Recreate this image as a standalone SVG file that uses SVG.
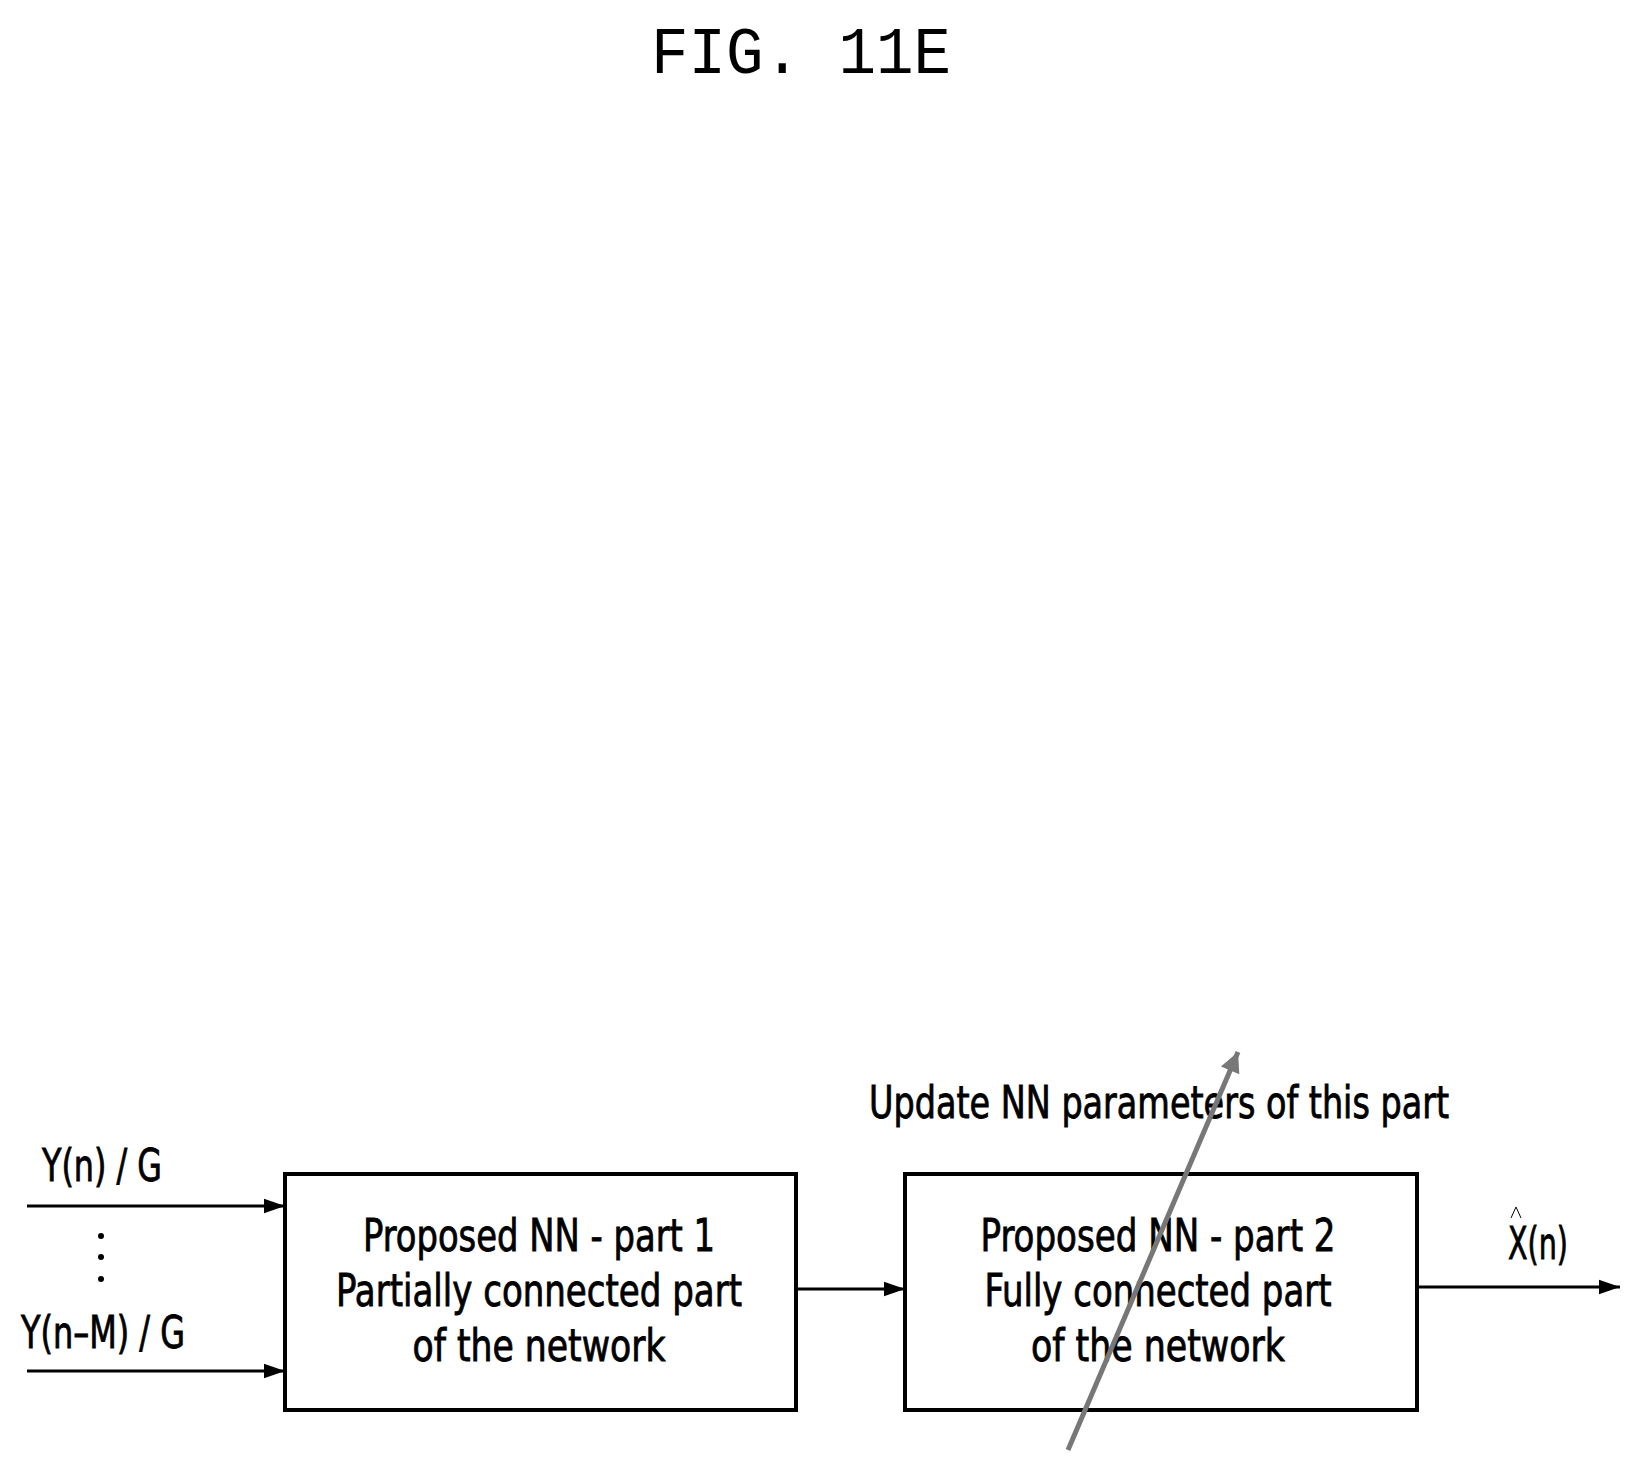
<svg xmlns="http://www.w3.org/2000/svg" width="1633" height="1466" viewBox="0 0 1633 1466">
<style>
.t{font-family:"DejaVu Sans",sans-serif;font-stretch:condensed;font-size:44px;fill:#000;stroke:#000;stroke-width:0.8}
.b{fill:#fff;stroke:#000;stroke-width:4}
.c{stroke:#000;stroke-width:3;fill:none}
</style>
<defs>
<marker id="a" viewBox="0 0 10 10" refX="10" refY="5" markerWidth="13" markerHeight="7" markerUnits="strokeWidth" orient="auto"><path d="M0,1.5L10,5L0,8.5z" fill="#000"/></marker>
<marker id="g" viewBox="0 0 10 10" refX="10" refY="5" markerWidth="5" markerHeight="4" markerUnits="strokeWidth" orient="auto"><path d="M0,0L10,5L0,10z" fill="#777"/></marker>
</defs>
<rect width="1633" height="1466" fill="#fff"/>
<text x="801" y="73" text-anchor="middle" font-family="Liberation Mono,monospace" font-size="66" textLength="300" lengthAdjust="spacingAndGlyphs">FIG. 11E</text>
<g id="conn">
<line class="c" x1="27" y1="1206" x2="285" y2="1206" marker-end="url(#a)"/>
<line class="c" x1="27" y1="1371" x2="285" y2="1371" marker-end="url(#a)"/>
<line class="c" x1="796" y1="1289" x2="905" y2="1289" marker-end="url(#a)"/>
<line class="c" x1="1417" y1="1287" x2="1620" y2="1287" marker-end="url(#a)"/>
</g>
<g id="labels">
<text class="t" x="42" y="1181" textLength="120" lengthAdjust="spacingAndGlyphs">Y(n) / G</text>
<text class="t" x="21" y="1348" textLength="164" lengthAdjust="spacingAndGlyphs">Y(n–M) / G</text>
<circle cx="101" cy="1236" r="3"/><circle cx="101" cy="1257" r="3"/><circle cx="101" cy="1279" r="3"/>
<text class="t" x="1508" y="1259" textLength="60" lengthAdjust="spacingAndGlyphs">X(n)</text>
<path d="M1511,1218L1516,1207L1521,1218" fill="none" stroke="#000" stroke-width="1"/>
<text class="t" x="869" y="1118" textLength="580" lengthAdjust="spacingAndGlyphs">Update NN parameters of this part</text>
</g>
<g id="box1">
<rect class="b" x="285" y="1174" width="511" height="236"/>
<text class="t" x="539" y="1251" text-anchor="middle" textLength="352" lengthAdjust="spacingAndGlyphs">Proposed NN - part 1</text>
<text class="t" x="539" y="1306" text-anchor="middle" textLength="406" lengthAdjust="spacingAndGlyphs">Partially connected part</text>
<text class="t" x="539" y="1361" text-anchor="middle" textLength="253" lengthAdjust="spacingAndGlyphs">of the network</text>
</g>
<g id="box2">
<rect class="b" x="905" y="1174" width="512" height="236"/>
<text class="t" x="1158" y="1251" text-anchor="middle" textLength="355" lengthAdjust="spacingAndGlyphs">Proposed NN - part 2</text>
<text class="t" x="1158" y="1306" text-anchor="middle" textLength="347" lengthAdjust="spacingAndGlyphs">Fully connected part</text>
<text class="t" x="1158" y="1361" text-anchor="middle" textLength="254" lengthAdjust="spacingAndGlyphs">of the network</text>
</g>
<g id="update">
<line x1="1068" y1="1450" x2="1238" y2="1052" stroke="#777" stroke-width="5" marker-end="url(#g)"/>
</g>
</svg>
